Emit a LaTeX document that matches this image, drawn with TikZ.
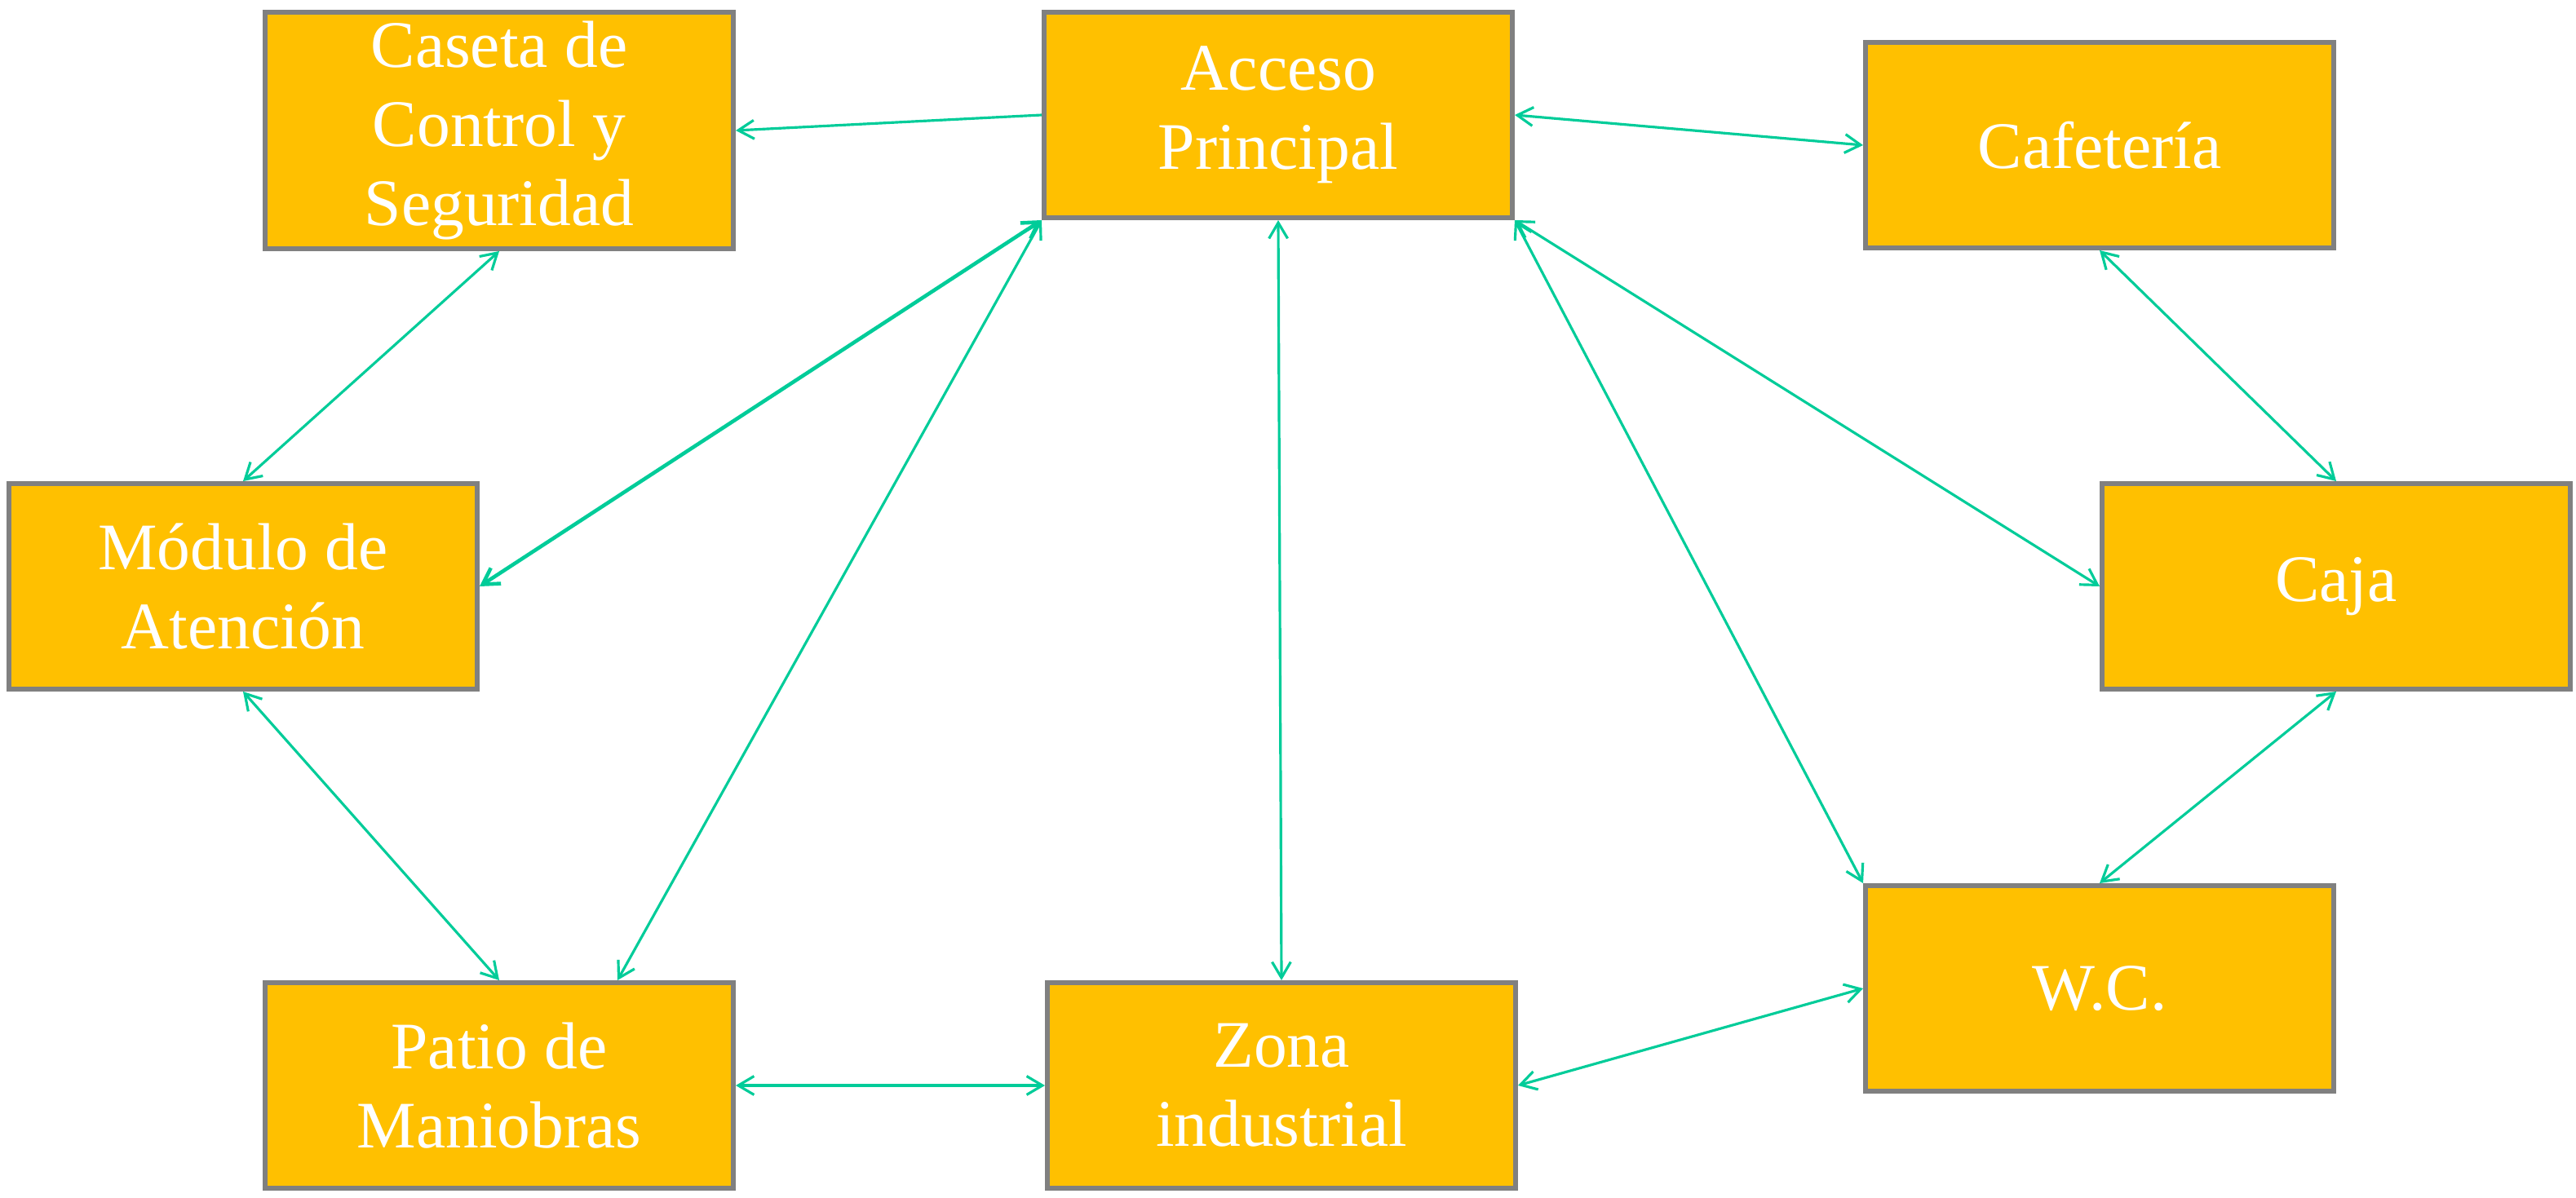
\documentclass[tikz,border=0pt]{standalone}
\usepackage{fontspec}
\setmainfont{Liberation Serif}
\usepackage{xcolor}
\usetikzlibrary{calc, arrows.meta}

\definecolor{cajaamarilla}{HTML}{FFC000}
\definecolor{bordegris}{HTML}{808080}
\definecolor{flechaverde}{HTML}{00CC99}

\tikzset{
  >={Straight Barb[length=5.5pt,width=6.5pt]},
  area/.style={rectangle, draw=bordegris, line width=1.7pt, fill=cajaamarilla,
    text=white, align=center, inner sep=0pt,
    minimum width=5.74cm, minimum height=2.52cm,
    font=\fontsize{23.2}{27.5}\selectfont},
  enlace/.style={draw=flechaverde, line width=0.9pt}
}

\begin{document}
\begin{tikzpicture}
  % Fix the page size
  \useasboundingbox (0,0) rectangle (31.58,14.68);

  % Draw areas
  \node[area, minimum height=2.90cm] (caseta) at (6.12,13.08) {Caseta de\\Control y\\Seguridad};
  \node[area] (acceso) at (15.67,13.27) {Acceso\\Principal};
  \node[area] (cafe) at (25.74,12.90) {Cafetería};
  \node[area] (modulo) at (2.98,7.49) {Módulo de\\Atención};
  \node[area] (caja) at (28.64,7.49) {Caja};
  \node[area] (wc) at (25.74,2.56) {W.C.};
  \node[area] (patio) at (6.12,1.37) {Patio de\\Maniobras};
  \node[area] (zona) at (15.71,1.37) {Zona\\industrial};

  % Draw connections
  \draw[enlace, ->] (acceso.west) -- (caseta.east);
  \draw[enlace, <->] (acceso.east) -- (cafe.west);
  \draw[enlace, <->] (caseta.south) -- (modulo.north);
  \draw[enlace, <->, line width=1.3pt] (acceso.south west) -- (modulo.east);
  \draw[enlace, <->] (acceso.south west) -- ($(patio.north)!0.5!(patio.north east)$);
  \draw[enlace, <->] (acceso.south) -- (zona.north);
  \draw[enlace, <->] (acceso.south east) -- (caja.west);
  \draw[enlace, <->] (acceso.south east) -- (wc.north west);
  \draw[enlace, <->] (cafe.south) -- (caja.north);
  \draw[enlace, <->] (caja.south) -- (wc.north);
  \draw[enlace, <->] (zona.east) -- (wc.west);
  \draw[enlace, <->] (patio.east) -- (zona.west);
  \draw[enlace, <->] (modulo.south) -- (patio.north);

\end{tikzpicture}
\end{document}
